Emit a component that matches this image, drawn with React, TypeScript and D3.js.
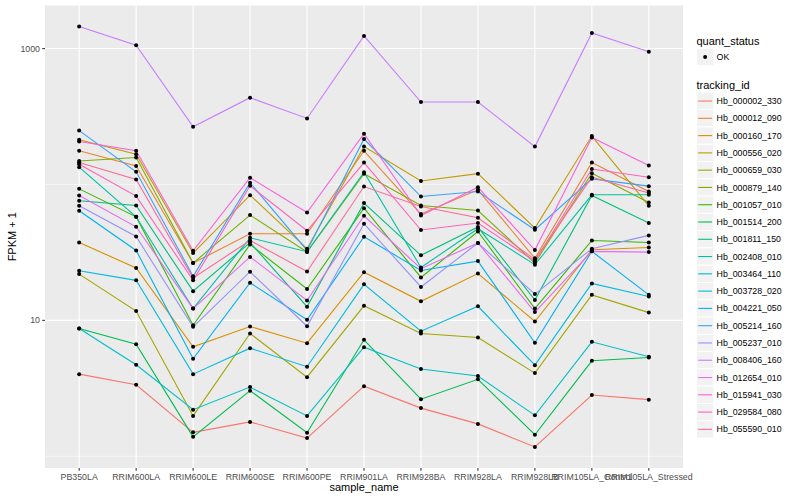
import React from "react";
import * as d3 from "d3";

const categories = ["PB350LA","RRIM600LA","RRIM600LE","RRIM600SE","RRIM600PE","RRIM901LA","RRIM928BA","RRIM928LA","RRIM928LB","RRIM105LA_Control","RRIM105LA_Stressed"];

const trackingIds = ["Hb_000002_330","Hb_000012_090","Hb_000160_170","Hb_000556_020","Hb_000659_030","Hb_000879_140","Hb_001057_010","Hb_001514_200","Hb_001811_150","Hb_002408_010","Hb_003464_110","Hb_003728_020","Hb_004221_050","Hb_005214_160","Hb_005237_010","Hb_008406_160","Hb_012654_010","Hb_015941_030","Hb_029584_080","Hb_055590_010"];

const hb_000002_330 = [4.02, 3.36, 1.50, 1.79, 1.36, 3.28, 2.26, 1.73, 1.17, 2.82, 2.61];
const hb_000012_090 = [177, 137, 26.4, 43.4, 43.4, 177, 60.5, 91.3, 28.6, 145, 88.7];
const hb_000160_170 = [37.4, 24.3, 6.39, 9.01, 6.79, 22.6, 13.8, 22.1, 9.8, 33.1, 34.4];
const hb_000556_020 = [213, 167, 31.3, 83.4, 33.7, 190, 106, 120, 47.8, 227, 69.6];
const hb_000659_030 = [21.9, 11.7, 1.98, 8.0, 3.82, 12.8, 8.0, 7.48, 4.09, 15.4, 11.4];
const hb_000879_140 = [149, 158, 26.4, 59.5, 31.8, 120, 70.0, 64.3, 26.4, 121, 73.6];
const hb_001057_010 = [92.8, 57.8, 9.2, 36.2, 17.0, 66.8, 20.7, 45.1, 12.2, 38.7, 37.4];
const hb_001514_200 = [8.71, 6.68, 1.39, 3.04, 1.49, 7.19, 2.63, 3.68, 1.44, 5.04, 5.33];
const hb_001811_150 = [75.8, 70.0, 16.4, 37.4, 12.6, 72.9, 30.1, 48.6, 14.1, 82.9, 52.0];
const hb_002408_010 = [134, 57.8, 12.2, 40.5, 32.0, 123, 24.5, 47.2, 25.7, 83.9, 83.9];
const hb_003464_110 = [8.71, 4.71, 2.20, 3.23, 1.98, 6.35, 4.38, 3.89, 2.00, 6.95, 5.40];
const hb_003728_020 = [23.2, 19.7, 4.02, 6.24, 4.56, 18.4, 8.32, 12.7, 4.68, 18.7, 15.0];
const hb_004221_050 = [64.0, 32.7, 5.22, 18.9, 10.1, 41.2, 23.3, 27.3, 6.84, 32.2, 15.4];
const hb_005214_160 = [249, 124, 21.1, 103, 32.7, 216, 81.5, 88.7, 46.4, 110, 97.2];
const hb_005237_010 = [69.6, 41.4, 8.96, 22.8, 9.05, 51.4, 17.6, 37.1, 15.6, 33.7, 42.2];
const hb_008406_160 = [1453, 1059, 266, 435, 306, 1240, 404, 404, 190, 1304, 946];
const hb_012654_010 = [82.9, 48.8, 12.2, 29.3, 14.0, 58.8, 24.0, 37.1, 11.5, 32.2, 31.8];
const hb_015941_030 = [207, 177, 32.5, 112, 62.2, 236, 59.1, 95.5, 32.9, 222, 138];
const hb_029584_080 = [141, 82.1, 19.7, 97.7, 45.6, 145, 46.2, 52.0, 27.2, 130, 113];
const hb_055590_010 = [145, 109, 20.5, 38.7, 22.9, 96.5, 68.8, 56.9, 28.0, 113, 86.4];

const seriesValues = [hb_000002_330, hb_000012_090, hb_000160_170, hb_000556_020, hb_000659_030, hb_000879_140, hb_001057_010, hb_001514_200, hb_001811_150, hb_002408_010, hb_003464_110, hb_003728_020, hb_004221_050, hb_005214_160, hb_005237_010, hb_008406_160, hb_012654_010, hb_015941_030, hb_029584_080, hb_055590_010];

const quantStatus = ["OK"];
const yMajor = [10, 1000];
const yMinor = [1, 100, 10000];

// polar LUV (R's hcl) -> sRGB hex
function hclLuv(h: number, c: number, l: number): string {
  const hr = (h * Math.PI) / 180;
  const U = c * Math.cos(hr), V = c * Math.sin(hr);
  const Xn = 95.047, Yn = 100, Zn = 108.883;
  const den = Xn + 15 * Yn + 3 * Zn;
  const un = (4 * Xn) / den, vn = (9 * Yn) / den;
  const Y = l > 7.999592 ? Yn * Math.pow((l + 16) / 116, 3) : (Yn * l) / 903.3;
  const u = U / (13 * l) + un, v = V / (13 * l) + vn;
  const X = (9 * Y * u) / (4 * v);
  const Z = -X / 3 - 5 * Y + (3 * Y) / v;
  const x = X / 100, y = Y / 100, z = Z / 100;
  const lin = [
    3.240479 * x - 1.53715 * y - 0.498535 * z,
    -0.969256 * x + 1.875992 * y + 0.041556 * z,
    0.055648 * x - 0.204043 * y + 1.057311 * z,
  ];
  const g = lin.map((t) => {
    const s = t <= 0.0031308 ? 12.92 * t : 1.055 * Math.pow(t, 1 / 2.4) - 0.055;
    return Math.max(0, Math.min(255, Math.round(s * 255)));
  });
  return d3.rgb(g[0], g[1], g[2]).formatHex();
}

const n = trackingIds.length;
const colors = trackingIds.map((_, i) => hclLuv(15 + (360 / n) * i, 100, 65));

const W = 800, H = 500;
const pl = 45, pr = 683, pt = 5.5, pb = 468;
const FONT = "'Liberation Sans', Arial, Helvetica, sans-serif";

export default function App() {
  const x = d3.scalePoint<string>().domain(categories).range([pl, pr]).padding(0.6);
  const logs = seriesValues.flat().map((v) => Math.log10(v));
  const lo = d3.min(logs) as number, hi = d3.max(logs) as number;
  const ex = (hi - lo) * 0.05;
  const y = d3.scaleLog().domain([Math.pow(10, lo - ex), Math.pow(10, hi + ex)]).range([pb, pt]);
  const line = d3
    .line<number>()
    .x((_, i) => x(categories[i]) as number)
    .y((v) => y(v));

  const keySize = 17.28;
  const legX = 696.5;
  const key0 = 92.4;

  return (
    <svg width={W} height={H} style={{ position: "absolute", left: 0, top: 0, background: "#fff" }} fontFamily={FONT}>
      <rect x={0} y={0} width={W} height={H} fill="#fff" />
      <rect x={pl} y={pt} width={pr - pl} height={pb - pt} fill="#EBEBEB" />
      {yMinor.filter((v) => y(v) >= pt && y(v) <= pb).map((v) => (
        <line key={"mn" + v} x1={pl} x2={pr} y1={y(v)} y2={y(v)} stroke="#fff" strokeWidth={0.55} />
      ))}
      {yMajor.map((v) => (
        <line key={"mj" + v} x1={pl} x2={pr} y1={y(v)} y2={y(v)} stroke="#fff" strokeWidth={1.07} />
      ))}
      {categories.map((c) => (
        <line key={"vx" + c} x1={x(c)} x2={x(c)} y1={pt} y2={pb} stroke="#fff" strokeWidth={1.07} />
      ))}
      {seriesValues.map((vals, i) => (
        <path key={"ln" + i} d={line(vals) as string} fill="none" stroke={colors[i]} strokeWidth={1.1} />
      ))}
      {seriesValues.map((vals, i) =>
        vals.map((v, j) => <circle key={"pt" + i + "_" + j} cx={x(categories[j])} cy={y(v)} r={2} fill="#000" />)
      )}
      {/* y axis */}
      {yMajor.map((v) => (
        <g key={"yt" + v}>
          <line x1={pl - 2.75} x2={pl} y1={y(v)} y2={y(v)} stroke="#333" strokeWidth={1.07} />
          <text x={pl - 5} y={y(v)} dy="0.35em" textAnchor="end" fontSize={8.8} fill="#4D4D4D">
            {v}
          </text>
        </g>
      ))}
      {categories.map((c) => (
        <g key={"xt" + c}>
          <line x1={x(c)} x2={x(c)} y1={pb} y2={pb + 2.75} stroke="#333" strokeWidth={1.07} />
          <text x={x(c)} y={pb + 5} dy="0.75em" textAnchor="middle" fontSize={8.8} fill="#4D4D4D">
            {c}
          </text>
        </g>
      ))}
      <text x={(pl + pr) / 2} y={491} textAnchor="middle" fontSize={11} fill="#000">
        sample_name
      </text>
      <text transform={`translate(16,${(pt + pb) / 2}) rotate(-90)`} textAnchor="middle" fontSize={11} fill="#000">
        FPKM + 1
      </text>
      {/* legend: quant_status */}
      <text x={legX} y={44.5} fontSize={11} fill="#000">quant_status</text>
      {quantStatus.map((q, i) => (
        <g key={"qs" + q}>
          <rect x={legX} y={48.3 + i * keySize} width={keySize} height={keySize} fill="#F2F2F2" stroke="#fff" strokeWidth={1} />
          <circle cx={legX + keySize / 2} cy={48.3 + keySize / 2 + i * keySize} r={2} fill="#000" />
          <text x={legX + keySize + 2.8} y={48.3 + keySize / 2 + i * keySize} dy="0.35em" fontSize={8.8} fill="#000">
            {q}
          </text>
        </g>
      ))}
      {/* legend: tracking_id */}
      <text x={legX} y={88.5} fontSize={11} fill="#000">tracking_id</text>
      {trackingIds.map((id, i) => {
        const ky = key0 + i * keySize;
        return (
          <g key={"lg" + id}>
            <rect x={legX} y={ky} width={keySize} height={keySize} fill="#F2F2F2" stroke="#fff" strokeWidth={1} />
            <line x1={legX + 1.7} x2={legX + keySize - 1.7} y1={ky + keySize / 2} y2={ky + keySize / 2} stroke={colors[i]} strokeWidth={1.1} />
            <text x={legX + keySize + 2.8} y={ky + keySize / 2} dy="0.35em" fontSize={8.8} fill="#000">
              {id}
            </text>
          </g>
        );
      })}
    </svg>
  );
}
